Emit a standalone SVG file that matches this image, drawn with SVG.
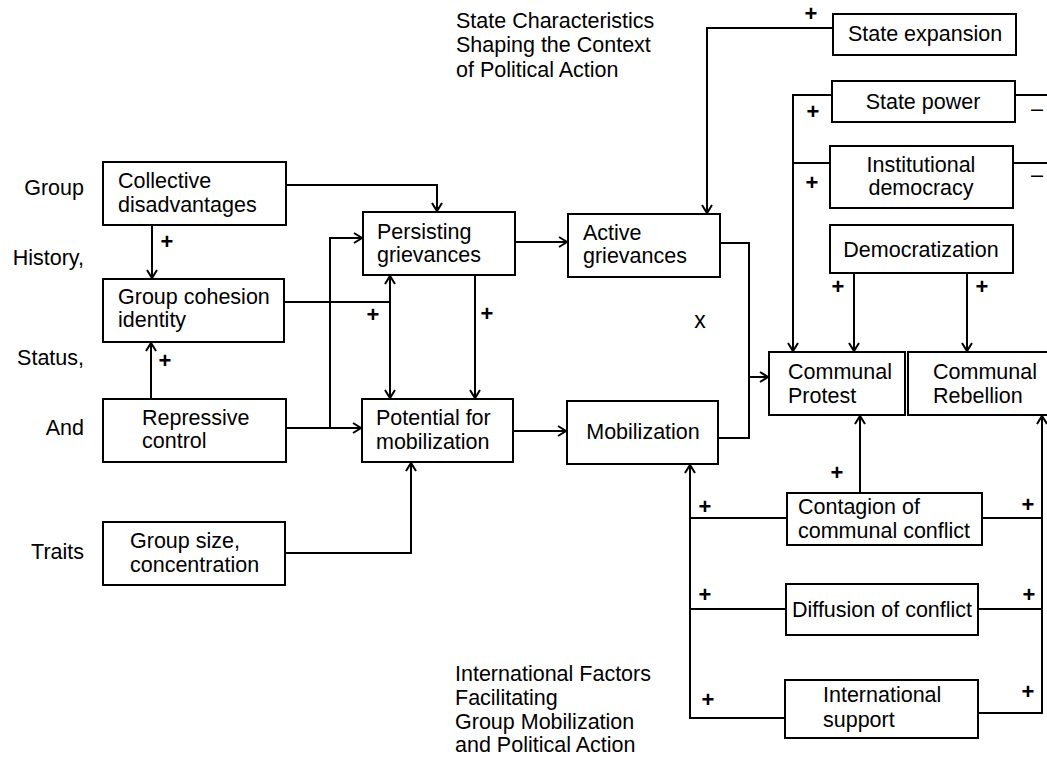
<svg xmlns="http://www.w3.org/2000/svg" width="1047" height="758" viewBox="0 0 1047 758">
<defs>
<marker id="arr" markerUnits="userSpaceOnUse" markerWidth="14" markerHeight="14" refX="9" refY="6" orient="auto">
<path d="M1,1 L9,6 L1,11" fill="none" stroke="#000" stroke-width="2"/>
</marker>
<style>
text{font-family:"Liberation Sans",Arial,sans-serif;font-size:21.5px;fill:#000}
.m{text-anchor:middle}
.e{text-anchor:end}
.p{font-weight:bold;font-size:22px}
rect{fill:#fff;stroke:#000;stroke-width:2}
.c path{fill:none;stroke:#000;stroke-width:2}
.a{marker-end:url(#arr)}
</style>
</defs>
<rect x="0" y="0" width="1047" height="758" style="stroke:none"/>

<g id="connectors" class="c">
<path class="a" d="M833,28 H707 V213"/>
<path class="a" d="M832,95 H793 V351"/>
<path d="M830,163 H793"/>
<path d="M1015,95 H1048"/>
<path d="M1013,163 H1048"/>
<path class="a" d="M854,273 V351"/>
<path class="a" d="M967,273 V351"/>
<path d="M720,243 H749 V438 H718"/>
<path class="a" d="M749,377 H768"/>
<path class="a" d="M860,493 V416"/>
<path class="a" d="M785,718 H690 V465"/>
<path d="M787,518 H690"/>
<path d="M786,609 H690"/>
<path class="a" d="M978,713 H1042 V416"/>
<path d="M982,518 H1042"/>
<path d="M978,609 H1042"/>
<path class="a" d="M286,185 H437 V211"/>
<path class="a" d="M152,225 V278"/>
<path class="a" d="M151,399 V343"/>
<path d="M284,302 H390"/>
<path class="a" d="M390,330 V276"/>
<path class="a" d="M390,330 V398"/>
<path class="a" d="M286,428 H361"/>
<path class="a" d="M330,428 V238 H362"/>
<path class="a" d="M475,275 V398"/>
<path class="a" d="M515,242 H567"/>
<path class="a" d="M513,431 H566"/>
<path class="a" d="M285,553 H411 V463"/>
</g>

<g id="n-state-expansion"><rect x="833" y="14" width="183" height="41"/><text class="m" x="925" y="41">State expansion</text></g>
<g id="n-state-power"><rect x="832" y="81" width="183" height="41"/><text class="m" x="923" y="109">State power</text></g>
<g id="n-inst-democracy"><rect x="830" y="146" width="183" height="62"/><text class="m" x="921" y="172">Institutional</text><text class="m" x="921" y="195">democracy</text></g>
<g id="n-democratization"><rect x="830" y="225" width="183" height="48"/><text class="m" x="921" y="257">Democratization</text></g>
<g id="n-protest"><rect x="769" y="352" width="136" height="63"/><text x="788" y="379">Communal</text><text x="788" y="403">Protest</text></g>
<g id="n-rebellion"><rect x="908" y="352" width="145" height="63"/><text x="933" y="379">Communal</text><text x="933" y="403">Rebellion</text></g>
<g id="n-active"><rect x="568" y="214" width="152" height="63"/><text x="583" y="240">Active</text><text x="583" y="263">grievances</text></g>
<g id="n-mobilization"><rect x="567" y="401" width="151" height="63"/><text class="m" x="643" y="439">Mobilization</text></g>
<g id="n-persisting"><rect x="363" y="212" width="152" height="63"/><text x="377" y="239">Persisting</text><text x="377" y="262">grievances</text></g>
<g id="n-potential"><rect x="362" y="399" width="151" height="63"/><text x="376" y="425">Potential for</text><text x="376" y="449">mobilization</text></g>
<g id="n-collective"><rect x="103" y="162" width="183" height="63"/><text x="118" y="188">Collective</text><text x="118" y="212">disadvantages</text></g>
<g id="n-cohesion"><rect x="103" y="279" width="181" height="63"/><text x="118" y="304">Group cohesion</text><text x="118" y="327">identity</text></g>
<g id="n-repressive"><rect x="103" y="399" width="183" height="63"/><text x="142" y="425">Repressive</text><text x="142" y="448">control</text></g>
<g id="n-groupsize"><rect x="103" y="522" width="182" height="63"/><text x="130" y="548">Group size,</text><text x="130" y="572">concentration</text></g>
<g id="n-contagion"><rect x="787" y="493" width="195" height="52"/><text x="798" y="514">Contagion of</text><text x="798" y="538">communal conflict</text></g>
<g id="n-diffusion"><rect x="786" y="584" width="192" height="51"/><text x="792" y="617">Diffusion of conflict</text></g>
<g id="n-intl"><rect x="785" y="680" width="193" height="58"/><text x="823" y="702">International</text><text x="823" y="727">support</text></g>

<g id="labels">
<text class="e" x="84" y="195">Group</text>
<text class="e" x="84" y="265">History,</text>
<text class="e" x="84" y="365">Status,</text>
<text class="e" x="84" y="435">And</text>
<text class="e" x="84" y="559">Traits</text>
<text x="456" y="28">State Characteristics</text>
<text x="456" y="52">Shaping the Context</text>
<text x="456" y="77">of Political Action</text>
<text x="455" y="681">International Factors</text>
<text x="455" y="705">Facilitating</text>
<text x="455" y="729">Group Mobilization</text>
<text x="455" y="752">and Political Action</text>
<text class="m" x="700" y="328" style="font-size:23px">x</text>
<text class="m p" x="811" y="21">+</text>
<text class="m p" x="813" y="119">+</text>
<text class="m p" x="812" y="190">+</text>
<text class="m" x="1037" y="116">–</text>
<text class="m" x="1037" y="182">–</text>
<text class="m p" x="838" y="294">+</text>
<text class="m p" x="982" y="294">+</text>
<text class="m p" x="837" y="480">+</text>
<text class="m p" x="705" y="514">+</text>
<text class="m p" x="705" y="602">+</text>
<text class="m p" x="708" y="707">+</text>
<text class="m p" x="1028" y="512">+</text>
<text class="m p" x="1029" y="602">+</text>
<text class="m p" x="1028" y="699">+</text>
<text class="m p" x="167" y="249">+</text>
<text class="m p" x="165" y="368">+</text>
<text class="m p" x="373" y="322">+</text>
<text class="m p" x="487" y="321">+</text>
</g>
</svg>
